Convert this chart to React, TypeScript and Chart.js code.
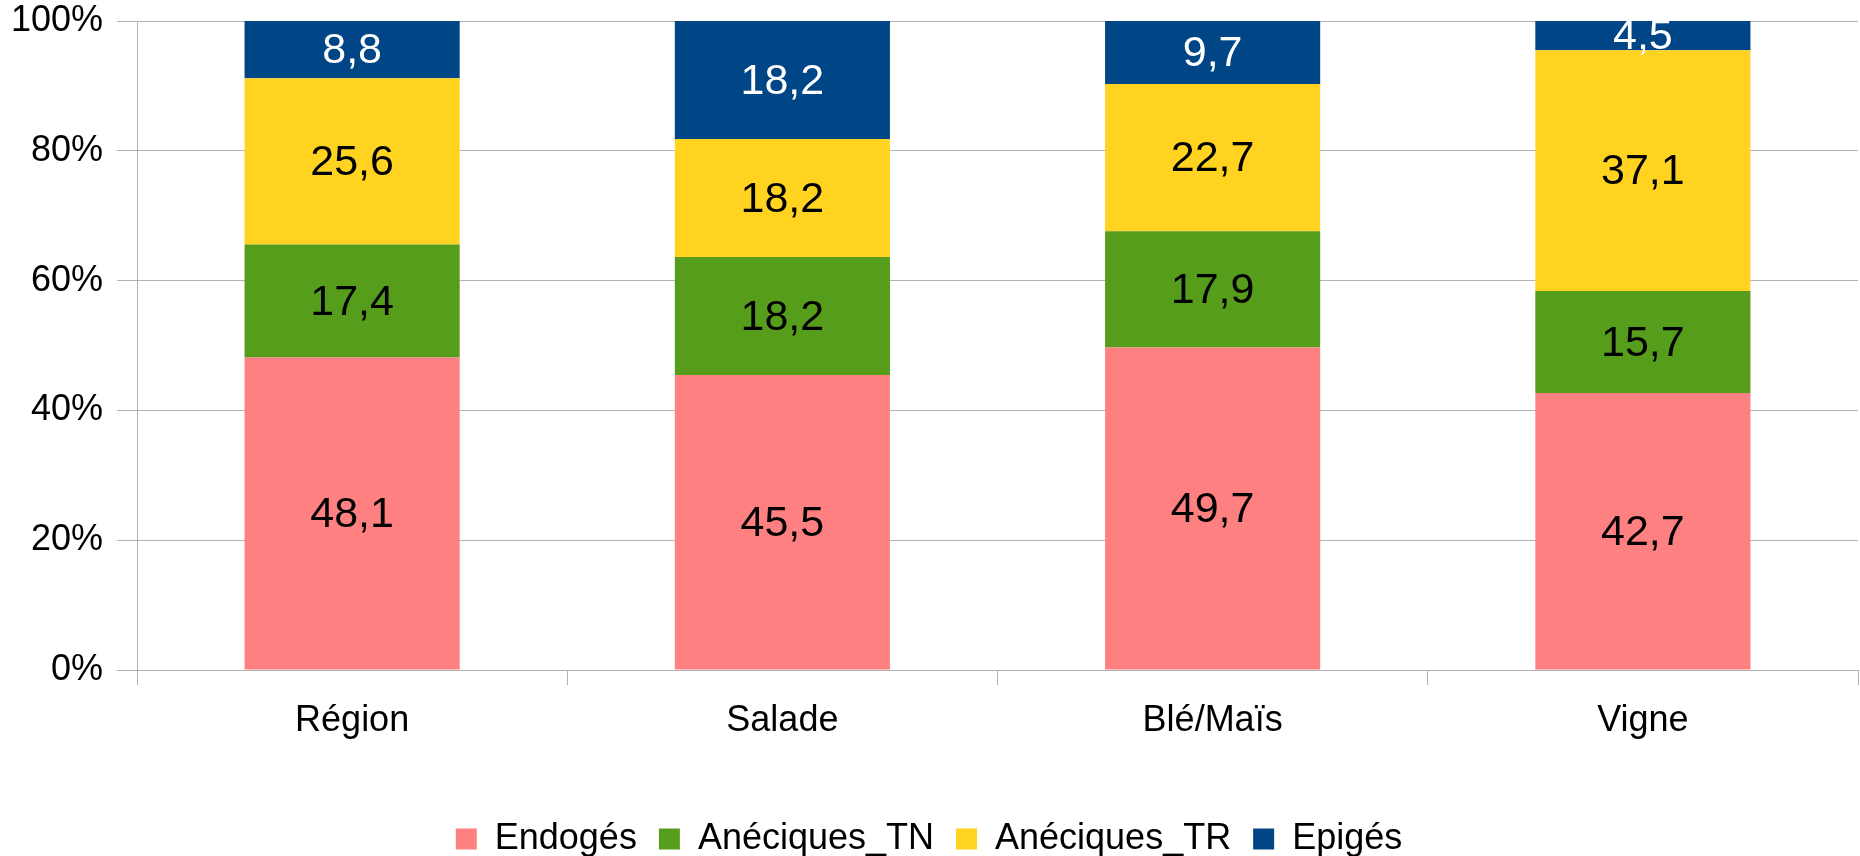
import React, { useEffect, useRef } from "react";
import { Chart, registerables } from "chart.js";

Chart.register(...registerables);

const categories = ["Région", "Salade", "Blé/Maïs", "Vigne"];
const seriesNames = ["Endogés", "Anéciques_TN", "Anéciques_TR", "Epigés"];
const endoges = [48.1, 45.5, 49.7, 42.7];
const aneciquesTN = [17.4, 18.2, 17.9, 15.7];
const aneciquesTR = [25.6, 18.2, 22.7, 37.1];
const epiges = [8.8, 18.2, 9.7, 4.5];
const seriesColors = ["#ff8080", "#579d1c", "#ffd320", "#004586"];
const labelColors = ["#000000", "#000000", "#000000", "#ffffff"];
const yTicks = [0, 20, 40, 60, 80, 100];

const FONT = "'Liberation Sans', Arial, sans-serif";

export default function App() {
  const ref = useRef<HTMLCanvasElement | null>(null);

  useEffect(() => {
    document.body.style.margin = "0";
    const raw = [endoges, aneciquesTN, aneciquesTR, epiges];
    const totals = categories.map((_, i) => raw.reduce((s, arr) => s + arr[i], 0));

    const valueLabels = {
      id: "valueLabels",
      afterDatasetsDraw(chart: any) {
        const ctx = chart.ctx;
        ctx.save();
        ctx.font = `43px ${FONT}`;
        ctx.textAlign = "center";
        ctx.textBaseline = "middle";
        chart.data.datasets.forEach((ds: any, di: number) => {
          const meta = chart.getDatasetMeta(di);
          meta.data.forEach((bar: any, i: number) => {
            const txt = raw[di][i].toFixed(1).replace(".", ",");
            const cy = (bar.y + bar.base) / 2 + 2;
            ctx.fillStyle = labelColors[di];
            ctx.fillText(txt, bar.x, cy);
          });
        });
        ctx.restore();
      },
    };

    const chart = new Chart(ref.current!, {
      type: "bar",
      data: {
        labels: categories,
        datasets: seriesNames.map((name, di) => ({
          label: name,
          data: raw[di].map((v, i) => (v / totals[i]) * 100),
          backgroundColor: seriesColors[di],
          borderWidth: 0,
          barPercentage: 0.5,
          categoryPercentage: 1,
        })),
      },
      options: {
        animation: false,
        responsive: false,
        maintainAspectRatio: false,
        layout: { padding: { top: 21, right: 2, bottom: -11, left: 0 } },
        plugins: {
          legend: {
            position: "bottom",
            labels: {
              font: { family: FONT, size: 36 },
              color: "#000",
              boxWidth: 21,
              boxHeight: 21,
              padding: 22,
            },
          },
          tooltip: { enabled: false },
        },
        scales: {
          x: {
            stacked: true,
            grid: {
              offset: true,
              drawOnChartArea: false,
              tickLength: 15,
              color: "#b3b3b3",
            },
            border: { color: "#b3b3b3" },
            ticks: {
              font: { family: FONT, size: 36 },
              color: "#000",
              padding: 14,
              maxRotation: 0,
            },
            afterFit(scale: any) {
              scale.height = 129;
              scale.paddingLeft = 0;
              scale.paddingRight = 0;
            },
          },
          y: {
            stacked: true,
            min: 0,
            max: 100,
            afterBuildTicks(scale: any) {
              scale.ticks = yTicks.map((v) => ({ value: v }));
            },
            grid: { color: "#b3b3b3", tickLength: 20 },
            border: { color: "#b3b3b3" },
            ticks: {
              font: { family: FONT, size: 36 },
              color: "#000",
              padding: 14,
              callback: (v: any) => `${v}%`,
            },
            afterFit(scale: any) {
              scale.width = 137;
              scale.paddingTop = 0;
              scale.paddingBottom = 0;
            },
          },
        },
      },
      plugins: [valueLabels],
    });
    return () => chart.destroy();
  }, []);

  return (
    <div style={{ width: 1860, height: 856 }}>
      <canvas ref={ref} width={1860} height={856} />
    </div>
  );
}
